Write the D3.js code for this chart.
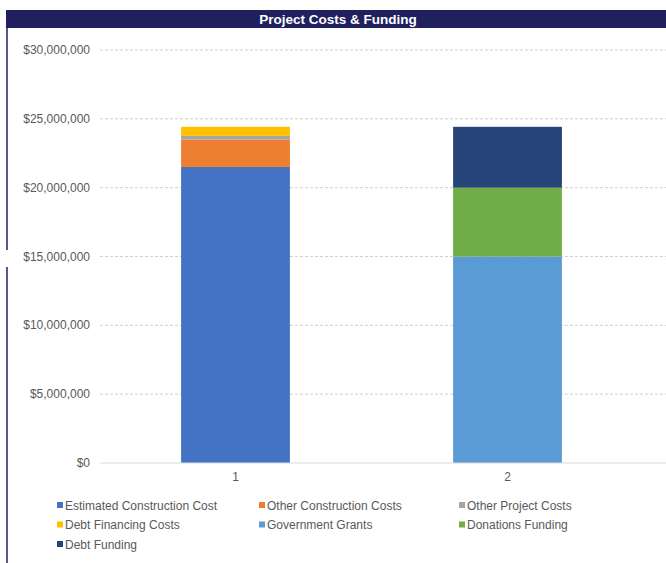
<!DOCTYPE html>
<html>
<head>
<meta charset="utf-8">
<script src="https://cdn.jsdelivr.net/npm/d3@7"></script>
<style>
  body { margin: 0; background: #fff; }
  svg { display: block; font-family: "Liberation Sans", Arial, sans-serif; }
</style>
</head>
<body>
<div id="chart"></div>
<script>
(function() {
  const width = 666;
  const height = 563;

  // chart data
  const categories = ["1", "2"];
  const seriesNames = [
    "Estimated Construction Cost", "Other Construction Costs", "Other Project Costs",
    "Debt Financing Costs", "Government Grants", "Donations Funding", "Debt Funding"
  ];
  const seriesColors = ["#4472C4", "#ED7D31", "#A5A5A5", "#FFC000", "#5B9BD5", "#70AD47", "#264478"];
  // values per series, one per category
  const estimatedConstruction = [21500000, 0];
  const otherConstruction = [2000000, 0];
  const otherProject = [260000, 0];
  const debtFinancing = [660000, 0];
  const governmentGrants = [0, 15000000];
  const donationsFunding = [0, 5000000];
  const debtFunding = [0, 4420000];
  const yTicks = [0, 5000000, 10000000, 15000000, 20000000, 25000000, 30000000];

  const seriesValues = [estimatedConstruction, otherConstruction, otherProject,
    debtFinancing, governmentGrants, donationsFunding, debtFunding];

  // build a table for d3.stack
  const table = categories.map((c, i) => {
    const row = { category: c };
    seriesNames.forEach((s, j) => { row[s] = seriesValues[j][i]; });
    return row;
  });
  const stacked = d3.stack().keys(seriesNames)(table);

  const svg = d3.select("#chart")
    .append("svg")
    .attr("width", width)
    .attr("height", height);

  // title bar
  svg.append("rect")
    .attr("x", 6).attr("y", 10)
    .attr("width", width - 6).attr("height", 18)
    .style("fill", "#20205E");
  svg.append("text")
    .attr("x", 338).attr("y", 24)
    .attr("text-anchor", "middle")
    .style("fill", "#fff")
    .style("font-size", "13.5px")
    .style("font-weight", "bold")
    .text("Project Costs & Funding");

  // left border (with the small gap)
  svg.append("line")
    .attr("x1", 7).attr("x2", 7).attr("y1", 28).attr("y2", 250)
    .style("stroke", "#20205E").style("stroke-width", 1.5);
  svg.append("line")
    .attr("x1", 7).attr("x2", 7).attr("y1", 267).attr("y2", height)
    .style("stroke", "#20205E").style("stroke-width", 1.5);

  const x = d3.scaleBand()
    .domain(categories)
    .range([99.5, 643.5])
    .paddingInner(0.6)
    .paddingOuter(0.3);

  const y = d3.scaleLinear()
    .domain([0, 30000000])
    .range([463, 50]);

  // gridlines
  svg.append("g")
    .selectAll("line")
    .data(yTicks.filter(d => d > 0))
    .join("line")
    .attr("x1", 100).attr("x2", width)
    .attr("y1", d => y(d)).attr("y2", d => y(d))
    .style("stroke", "#D0D0D0")
    .style("stroke-dasharray", "3,2");

  // y axis labels
  const fmt = d3.format("$,");
  svg.append("g")
    .selectAll("text")
    .data(yTicks)
    .join("text")
    .attr("x", 90)
    .attr("y", d => y(d) + 4)
    .attr("text-anchor", "end")
    .style("fill", "#595959")
    .style("font-size", "12px")
    .text(d => fmt(d));

  // bars
  svg.append("g")
    .selectAll("g")
    .data(stacked)
    .join("g")
    .style("fill", (d, i) => seriesColors[i])
    .selectAll("rect")
    .data(d => d)
    .join("rect")
    .attr("x", d => x(d.data.category))
    .attr("width", x.bandwidth())
    .attr("y", d => y(d[1]))
    .attr("height", d => y(d[0]) - y(d[1]));

  // baseline
  svg.append("line")
    .attr("x1", 100).attr("x2", width)
    .attr("y1", y(0)).attr("y2", y(0))
    .style("stroke", "#D9D9D9");

  // x axis labels
  svg.append("g")
    .selectAll("text")
    .data(categories)
    .join("text")
    .attr("x", d => x(d) + x.bandwidth() / 2)
    .attr("y", 481)
    .attr("text-anchor", "middle")
    .style("fill", "#595959")
    .style("font-size", "12px")
    .text(d => d);

  // legend
  const colX = [57, 259, 459];
  const legend = svg.append("g")
    .selectAll("g")
    .data(seriesNames)
    .join("g")
    .attr("transform", (d, i) => `translate(${colX[i % 3]},${505 + Math.floor(i / 3) * 19.5})`);
  legend.append("rect")
    .attr("x", 0).attr("y", -3)
    .attr("width", 6).attr("height", 6)
    .style("fill", (d, i) => seriesColors[i]);
  legend.append("text")
    .attr("x", 8)
    .attr("y", 4.5)
    .style("fill", "#595959")
    .style("font-size", "12px")
    .text(d => d);
})();
</script>
</body>
</html>
